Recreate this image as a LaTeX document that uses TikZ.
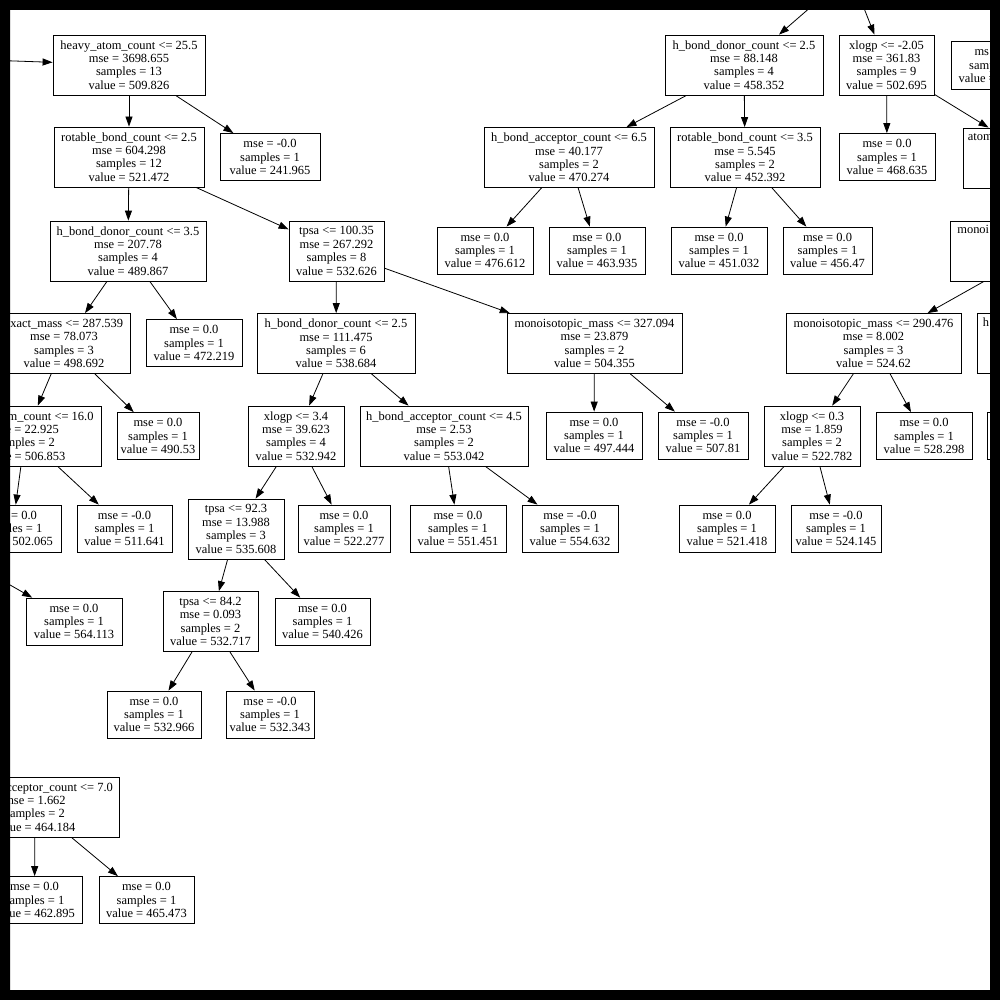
\documentclass[tikz,border=0pt]{standalone}
\usepackage{fontspec}
\setmainfont{Liberation Serif}
\usetikzlibrary{arrows.meta}
\newcommand{\treefont}{\fontsize{12.47}{13.4}\selectfont}

\begin{document}
\begin{tikzpicture}[x=1pt, y=-1pt,
    split/.style={draw, line width=0.8pt, align=center, font=\treefont, inner sep=1pt, minimum height=60},
    leaf/.style={split, minimum height=47},
    link/.style={line width=0.8pt, -{Triangle[length=10pt,width=7pt]}}]
  \useasboundingbox (0,0) rectangle (1000,1000);
  \fill[white] (0,0) rectangle (1000,1000);

  % parents that lie outside the frame
  \coordinate (root) at (-100,57);
  \coordinate (topsplit) at (850,-27);
  \coordinate (leftsplit) at (-60,545);

  % left half
  \node[split, minimum width=152] (heavy) at (129,65) {heavy\_atom\_count <= 25.5\\mse = 3698.655\\samples = 13\\value = 509.826};
  \node[leaf, minimum width=100] (l241) at (270,157) {mse = -0.0\\samples = 1\\value = 241.965};
  \node[split, minimum width=150] (rot25) at (129,157) {rotable\_bond\_count <= 2.5\\mse = 604.298\\samples = 12\\value = 521.472};
  \node[split, minimum width=156] (hdc35) at (128,251) {h\_bond\_donor\_count <= 3.5\\mse = 207.78\\samples = 4\\value = 489.867};
  \node[split, minimum width=95] (tpsa100) at (336.5,251) {tpsa <= 100.35\\mse = 267.292\\samples = 8\\value = 532.626};
  \node[split, minimum width=132] (exact) at (64,343.5) {exact\_mass <= 287.539\\mse = 78.073\\samples = 3\\value = 498.692};
  \node[leaf, minimum width=96] (l472) at (194,343) {mse = 0.0\\samples = 1\\value = 472.219};
  \node[split, minimum width=158] (hdc25) at (336,343.5) {h\_bond\_donor\_count <= 2.5\\mse = 111.475\\samples = 6\\value = 538.684};
  \node[split, minimum width=175] (mono327) at (594.5,343.5) {monoisotopic\_mass <= 327.094\\mse = 23.879\\samples = 2\\value = 504.355};
  \node[split, minimum width=152] (heavy16) at (25,436) {heavy\_atom\_count <= 16.0\\mse = 22.925\\samples = 2\\value = 506.853};
  \node[leaf, minimum width=82] (l490) at (158,436) {mse = 0.0\\samples = 1\\value = 490.53};
  \node[split, minimum width=96] (xlogp34) at (296,436) {xlogp <= 3.4\\mse = 39.623\\samples = 4\\value = 532.942};
  \node[split, minimum width=168] (hba45) at (444,436) {h\_bond\_acceptor\_count <= 4.5\\mse = 2.53\\samples = 2\\value = 553.042};
  \node[leaf, minimum width=96] (l497) at (594,435.5) {mse = 0.0\\samples = 1\\value = 497.444};
  \node[leaf, minimum width=90] (l507) at (703,435.5) {mse = -0.0\\samples = 1\\value = 507.81};
  \node[leaf, minimum width=97] (l502) at (12.5,528.5) {mse = 0.0\\samples = 1\\value = 502.065};
  \node[leaf, minimum width=95] (l511) at (124.5,528.5) {mse = -0.0\\samples = 1\\value = 511.641};
  \node[split, minimum width=96] (tpsa923) at (236,529) {tpsa <= 92.3\\mse = 13.988\\samples = 3\\value = 535.608};
  \node[leaf, minimum width=92] (l522) at (344,528.5) {mse = 0.0\\samples = 1\\value = 522.277};
  \node[leaf, minimum width=96] (l551) at (458,528.5) {mse = 0.0\\samples = 1\\value = 551.451};
  \node[leaf, minimum width=96] (l554) at (570,528.5) {mse = -0.0\\samples = 1\\value = 554.632};
  \node[leaf, minimum width=98] (cutA) at (-40,621) {};
  \node[leaf, minimum width=96] (l564) at (74,621.5) {mse = 0.0\\samples = 1\\value = 564.113};
  \node[split, minimum width=95] (tpsa842) at (210.5,621.5) {tpsa <= 84.2\\mse = 0.093\\samples = 2\\value = 532.717};
  \node[leaf, minimum width=95] (l540) at (322.5,621.5) {mse = 0.0\\samples = 1\\value = 540.426};
  \node[leaf, minimum width=98] (cutB) at (-40,714) {};
  \node[leaf, minimum width=94] (l532a) at (154,714.5) {mse = 0.0\\samples = 1\\value = 532.966};
  \node[leaf, minimum width=88] (l532b) at (270,714.5) {mse = -0.0\\samples = 1\\value = 532.343};
  \node[split, minimum width=168] (hba70) at (35,807) {h\_bond\_acceptor\_count <= 7.0\\mse = 1.662\\samples = 2\\value = 464.184};
  \node[leaf, minimum width=95] (l462) at (34.5,900) {mse = 0.0\\samples = 1\\value = 462.895};
  \node[leaf, minimum width=95] (l465) at (146.5,900) {mse = 0.0\\samples = 1\\value = 465.473};

  % right half
  \node[split, minimum width=158] (hdc88) at (744,65) {h\_bond\_donor\_count <= 2.5\\mse = 88.148\\samples = 4\\value = 458.352};
  \node[split, minimum width=95] (xlogpm) at (886.5,65) {xlogp <= -2.05\\mse = 361.83\\samples = 9\\value = 502.695};
  \node[leaf, minimum width=96, minimum height=48] (lcut) at (999,65) {ms\phantom{e = 0.0}\\samp\phantom{les = 1}\\value =\phantom{ 000.000}};
  \node[split, minimum width=170] (hba65) at (569,157.5) {h\_bond\_acceptor\_count <= 6.5\\mse = 40.177\\samples = 2\\value = 470.274};
  \node[split, minimum width=150] (rot35) at (745,157.5) {rotable\_bond\_count <= 3.5\\mse = 5.545\\samples = 2\\value = 452.392};
  \node[leaf, minimum width=96] (l468) at (887,157) {mse = 0.0\\samples = 1\\value = 468.635};
  \node[split, minimum width=150] (atomcut) at (1038,158) {};
  \node[anchor=base west, font=\treefont, inner sep=0pt] (atomtxt) at ([shift={(5,13)}]atomcut.north west) {atom};
  \node[leaf, minimum width=96] (l476) at (485,250.5) {mse = 0.0\\samples = 1\\value = 476.612};
  \node[leaf, minimum width=96] (l463) at (597,250.5) {mse = 0.0\\samples = 1\\value = 463.935};
  \node[leaf, minimum width=96] (l451) at (719,250.5) {mse = 0.0\\samples = 1\\value = 451.032};
  \node[leaf, minimum width=89] (l456) at (827.5,250.5) {mse = 0.0\\samples = 1\\value = 456.47};
  \node[split, minimum width=175] (monocut) at (1038,251) {};
  \node[anchor=base west, font=\treefont, inner sep=0pt] (monotxt) at ([shift={(7,13)}]monocut.north west) {monoi};
  \node[split, minimum width=175] (mono290) at (873.5,343.5) {monoisotopic\_mass <= 290.476\\mse = 8.002\\samples = 3\\value = 524.62};
  \node[split, minimum width=158] (hcut) at (1056,343.5) {};
  \node[anchor=base west, font=\treefont, inner sep=0pt] (htxt) at ([shift={(6,13)}]hcut.north west) {h};
  \node[split, minimum width=96] (xlogp03) at (812,436) {xlogp <= 0.3\\mse = 1.859\\samples = 2\\value = 522.782};
  \node[leaf, minimum width=96] (l528) at (924,436) {mse = 0.0\\samples = 1\\value = 528.298};
  \node[leaf, minimum width=96] (rcut) at (1035,435.5) {};
  \node[leaf, minimum width=96] (l521) at (727,528.5) {mse = 0.0\\samples = 1\\value = 521.418};
  \node[leaf, minimum width=90] (l524) at (836,528.5) {mse = -0.0\\samples = 1\\value = 524.145};

  % connectors
  \draw[link] (root) -- (heavy);
  \draw[link] (heavy) -- (rot25);
  \draw[link] (heavy) -- (l241);
  \draw[link] (rot25) -- (hdc35);
  \draw[link] (rot25) -- (tpsa100);
  \draw[link] (hdc35) -- (exact);
  \draw[link] (hdc35) -- (l472);
  \draw[link] (tpsa100) -- (hdc25);
  \draw[link] (tpsa100) -- (mono327);
  \draw[link] (exact) -- (heavy16);
  \draw[link] (exact) -- (l490);
  \draw[link] (hdc25) -- (xlogp34);
  \draw[link] (hdc25) -- (hba45);
  \draw[link] (mono327) -- (l497);
  \draw[link] (mono327) -- (l507);
  \draw[link] (heavy16) -- (l502);
  \draw[link] (heavy16) -- (l511);
  \draw[link] (xlogp34) -- (tpsa923);
  \draw[link] (xlogp34) -- (l522);
  \draw[link] (hba45) -- (l551);
  \draw[link] (hba45) -- (l554);
  \draw[link] (leftsplit) -- (l564);
  \draw[link] (tpsa923) -- (tpsa842);
  \draw[link] (tpsa923) -- (l540);
  \draw[link] (tpsa842) -- (l532a);
  \draw[link] (tpsa842) -- (l532b);
  \draw[link] (hba70) -- (l462);
  \draw[link] (hba70) -- (l465);
  \draw[link] (topsplit) -- (hdc88);
  \draw[link] (topsplit) -- (xlogpm);
  \draw[link] (hdc88) -- (hba65);
  \draw[link] (hdc88) -- (rot35);
  \draw[link] (xlogpm) -- (l468);
  \draw[link] (xlogpm) -- (atomcut);
  \draw[link] (hba65) -- (l476);
  \draw[link] (hba65) -- (l463);
  \draw[link] (rot35) -- (l451);
  \draw[link] (rot35) -- (l456);
  \draw[link] (monocut) -- (mono290);
  \draw[link] (monocut) -- (hcut);
  \draw[link] (hcut) -- (rcut);
  \draw[link] (mono290) -- (xlogp03);
  \draw[link] (mono290) -- (l528);
  \draw[link] (xlogp03) -- (l521);
  \draw[link] (xlogp03) -- (l524);

  % black frame
  \fill[black, even odd rule] (0,0) rectangle (1000,1000) (10,10) rectangle (990,990);
\end{tikzpicture}
\end{document}
